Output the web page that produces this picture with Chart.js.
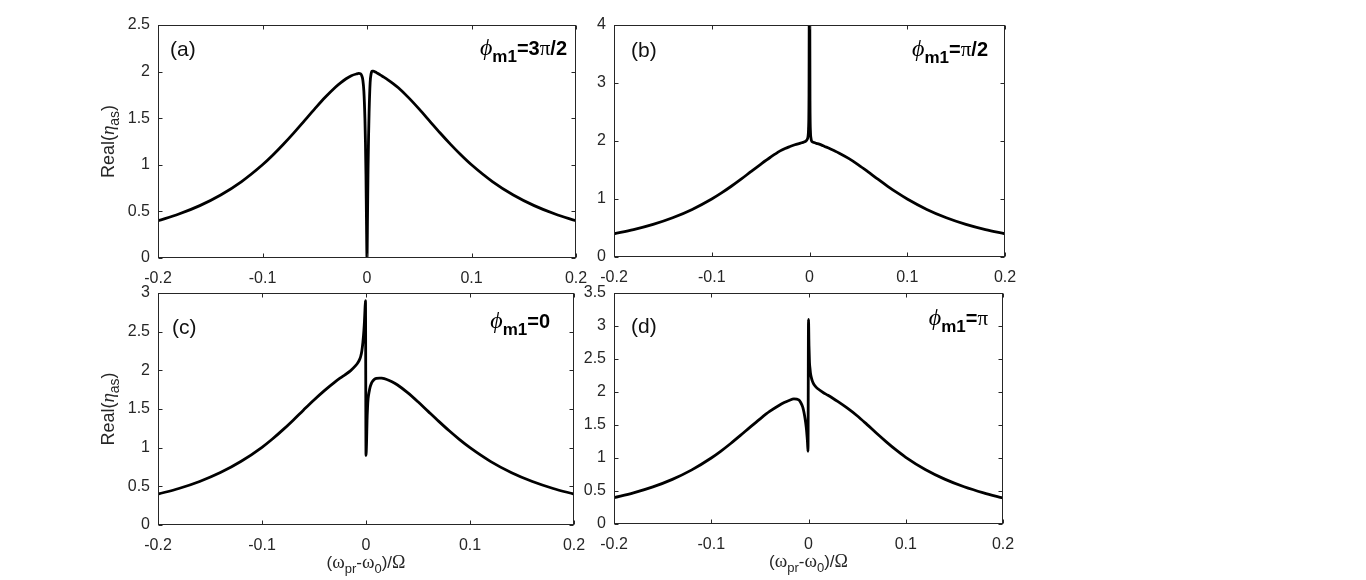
<!DOCTYPE html>
<html>
<head>
<meta charset="utf-8">
<script src="https://cdn.jsdelivr.net/npm/chart.js@4.4.1/dist/chart.umd.min.js"></script>
<style>
  html, body { margin: 0; padding: 0; background: #fff; }
  #wrap { position: relative; width: 1366px; height: 580px; overflow: hidden; background: #fff; }
  #wrap canvas { position: absolute; }
</style>
</head>
<body>
<div id="wrap">
  <canvas id="pa" width="520" height="290" style="left:90px;top:0px"></canvas>
  <canvas id="pb" width="480" height="290" style="left:560px;top:0px"></canvas>
  <canvas id="pc" width="520" height="315" style="left:90px;top:265px"></canvas>
  <canvas id="pd" width="480" height="315" style="left:560px;top:265px"></canvas>
</div>
<script>
// detuning (ω_pr-ω_0)/Ω, shared by all four panels
const detuning = [
  -0.2, -0.18, -0.16, -0.14, -0.12, -0.1, -0.09, -0.08, -0.07, -0.06, -0.05, -0.04, -0.03, -0.025,
  -0.02, -0.015, -0.01, -0.008, -0.006, -0.005, -0.004, -0.003, -0.002, -0.0015, -0.001, -0.0005,
  0,
  0.0005, 0.001, 0.0015, 0.002, 0.003, 0.004, 0.005, 0.006, 0.008, 0.01, 0.013, 0.015, 0.02, 0.025,
  0.03, 0.04, 0.05, 0.06, 0.07, 0.08, 0.09, 0.1, 0.12, 0.14, 0.16, 0.18, 0.2
];

// Real(η_as) for φ_m1 = 3π/2  (a)
const realA = [
  0.400, 0.472, 0.562, 0.676, 0.820, 1.000, 1.105, 1.220, 1.342, 1.471, 1.600, 1.724, 1.835, 1.882,
  1.923, 1.956, 1.975, 1.980, 1.975, 1.955, 1.910, 1.790, 1.500, 1.250, 0.900, 0.400,
  0.000,
  0.450, 0.950, 1.300, 1.560, 1.880, 1.980, 2.005, 2.005, 1.995, 1.982, 1.962, 1.948, 1.912, 1.872,
  1.826, 1.718, 1.597, 1.469, 1.341, 1.219, 1.105, 1.000, 0.820, 0.676, 0.562, 0.472, 0.400
];

// φ_m1 = π/2  (b) -- spike runs off the top of the axes
const realB = [
  0.400, 0.472, 0.562, 0.676, 0.820, 1.000, 1.105, 1.220, 1.342, 1.471, 1.598, 1.720, 1.830, 1.872,
  1.905, 1.935, 1.960, 1.970, 1.980, 1.987, 1.995, 2.010, 2.040, 2.080, 2.200, 2.800,
  6.000,
  2.700, 2.150, 2.050, 2.005, 1.985, 1.977, 1.972, 1.966, 1.956, 1.945, 1.925, 1.910, 1.875, 1.836,
  1.795, 1.700, 1.590, 1.468, 1.341, 1.219, 1.105, 1.000, 0.820, 0.676, 0.562, 0.472, 0.400
];

// φ_m1 = 0  (c)
const realC = [
  0.400, 0.472, 0.563, 0.678, 0.824, 1.005, 1.112, 1.230, 1.356, 1.488, 1.617, 1.738, 1.848, 1.898,
  1.945, 1.993, 2.060, 2.095, 2.145, 2.185, 2.250, 2.360, 2.520, 2.630, 2.780, 2.900,
  0.900,
  1.050, 1.350, 1.520, 1.630, 1.720, 1.785, 1.825, 1.852, 1.882, 1.895, 1.900, 1.898, 1.882, 1.853,
  1.814, 1.712, 1.593, 1.466, 1.340, 1.218, 1.104, 1.000, 0.820, 0.676, 0.562, 0.472, 0.400
];

// φ_m1 = π  (d)
const realD = [
  0.400, 0.472, 0.562, 0.676, 0.820, 1.000, 1.105, 1.220, 1.342, 1.468, 1.590, 1.705, 1.800, 1.840,
  1.872, 1.895, 1.880, 1.840, 1.775, 1.715, 1.640, 1.545, 1.420, 1.330, 1.230, 1.100,
  3.100,
  2.700, 2.450, 2.360, 2.290, 2.215, 2.165, 2.130, 2.105, 2.070, 2.045, 2.012, 1.992, 1.950, 1.905,
  1.858, 1.755, 1.640, 1.510, 1.375, 1.245, 1.122, 1.010, 0.826, 0.680, 0.564, 0.472, 0.395
];

const xTicks = [-0.2, -0.1, 0, 0.1, 0.2];

const SANS = '"Liberation Sans", Arial, sans-serif';
const SERIF = '"Liberation Serif", "DejaVu Serif", serif';
const AXIS = '#262626';

// draws a row of text pieces (each with own font / baseline shift)
function drawRich(ctx, parts, x, y, align) {
  let w = 0;
  parts.forEach(p => { ctx.font = p.f; w += ctx.measureText(p.t).width; });
  let cx = align === 'right' ? x - w : align === 'center' ? x - w / 2 : x;
  ctx.textBaseline = 'alphabetic';
  ctx.textAlign = 'left';
  parts.forEach(p => {
    ctx.font = p.f;
    ctx.fillText(p.t, cx, y + (p.dy || 0));
    cx += ctx.measureText(p.t).width;
  });
}

const xLabelParts = [
  { t: '(', f: `17px ${SANS}` },
  { t: 'ω', f: `19px ${SERIF}` },
  { t: 'pr', f: `13px ${SANS}`, dy: 5 },
  { t: '-', f: `17px ${SANS}` },
  { t: 'ω', f: `19px ${SERIF}` },
  { t: '0', f: `13px ${SANS}`, dy: 5 },
  { t: ')/', f: `17px ${SANS}` },
  { t: 'Ω', f: `18px ${SERIF}` }
];
const yLabelParts = [
  { t: 'Real(', f: `18px ${SANS}` },
  { t: 'η', f: `italic 19px ${SERIF}` },
  { t: 'as', f: `14px ${SANS}`, dy: 5 },
  { t: ')', f: `18px ${SANS}` }
];
function phaseParts(rest) {
  const parts = [
    { t: 'ϕ', f: `italic 24px ${SERIF}` },
    { t: 'm1', f: `bold 17px ${SANS}`, dy: 7 }
  ];
  rest.forEach(r => parts.push(r === 'π' ? { t: 'π', f: `21px ${SERIF}` } : { t: r, f: `bold 20px ${SANS}` }));
  return parts;
}

// box, inward ticks on all four sides, panel tag and phase label
const decor = {
  id: 'decor',
  afterDraw(chart, args, o) {
    const { ctx, chartArea: a, scales } = chart;
    const L = Math.round(a.left) + 0.5, R = Math.round(a.right) - 0.5;
    const T = Math.round(a.top) + 0.5, B = Math.round(a.bottom) - 0.5;
    ctx.save();
    ctx.strokeStyle = AXIS;
    ctx.lineWidth = 1;
    ctx.beginPath();
    scales.x.ticks.forEach(t => {
      const px = Math.round(scales.x.getPixelForValue(t.value)) + 0.5;
      ctx.moveTo(px, B); ctx.lineTo(px, B - 4);
      ctx.moveTo(px, T); ctx.lineTo(px, T + 4);
    });
    scales.y.ticks.forEach(t => {
      const py = Math.round(scales.y.getPixelForValue(t.value)) + 0.5;
      ctx.moveTo(L, py); ctx.lineTo(L + 4, py);
      ctx.moveTo(R, py); ctx.lineTo(R - 4, py);
    });
    ctx.stroke();
    ctx.strokeRect(L, T, R - L, B - T);

    ctx.fillStyle = '#111';
    ctx.font = `21px ${SANS}`;
    ctx.textAlign = 'left';
    ctx.textBaseline = 'alphabetic';
    ctx.fillText(o.tag, a.left + o.tagAt[0], a.top + o.tagAt[1]);
    ctx.fillStyle = '#000';
    drawRich(ctx, phaseParts(o.phase), a.right - o.phaseAt[0], a.top + o.phaseAt[1], 'right');

    ctx.fillStyle = AXIS;
    if (o.xLabel) drawRich(ctx, xLabelParts, (a.left + a.right) / 2, a.bottom + 43, 'center');
    if (o.yLabel) {
      ctx.translate(a.left - 44, (a.top + a.bottom) / 2);
      ctx.rotate(-Math.PI / 2);
      drawRich(ctx, yLabelParts, 0, 0, 'center');
    }
    ctx.restore();
  }
};

function makePanel(id, ys, p) {
  return new Chart(document.getElementById(id), {
    type: 'line',
    data: {
      datasets: [{
        data: detuning.map((x, i) => ({ x: x, y: ys[i] })),
        borderColor: '#000',
        borderWidth: 2.8,
        pointRadius: 0,
        cubicInterpolationMode: 'monotone',
        fill: false
      }]
    },
    options: {
      responsive: false,
      animation: false,
      events: [],
      layout: { padding: { left: 0, top: p.padTop, right: p.padRight, bottom: 0 } },
      plugins: {
        legend: { display: false },
        tooltip: { enabled: false },
        decor: p.decor
      },
      scales: {
        x: {
          type: 'linear',
          min: -0.2, max: 0.2,
          grid: { display: false, drawTicks: false },
          border: { display: false },
          afterBuildTicks: s => { s.ticks = xTicks.map(v => ({ value: v })); },
          afterFit: s => { s.height = p.xH; },
          ticks: {
            autoSkip: false, maxRotation: 0, padding: 11, color: AXIS,
            font: { family: SANS, size: 16 },
            callback: v => String(+v.toFixed(2))
          }
        },
        y: {
          min: 0, max: p.yMax,
          grid: { display: false, drawTicks: false },
          border: { display: false },
          afterFit: s => { s.width = p.yW; },
          ticks: {
            stepSize: p.yStep, autoSkip: false, padding: 8, color: AXIS,
            font: { family: SANS, size: 16 },
            callback: v => String(+v.toFixed(2))
          }
        }
      }
    },
    plugins: [decor]
  });
}

makePanel('pa', realA, {
  padTop: 25, padRight: 34, xH: 32, yW: 68, yMax: 2.5, yStep: 0.5,
  decor: { tag: '(a)', tagAt: [12, 31], phase: ['=3', 'π', '/2'], phaseAt: [9, 30], yLabel: true }
});
makePanel('pb', realB, {
  padTop: 25, padRight: 35, xH: 33, yW: 54, yMax: 4, yStep: 1,
  decor: { tag: '(b)', tagAt: [17, 32], phase: ['=', 'π', '/2'], phaseAt: [17, 31] }
});
makePanel('pc', realC, {
  padTop: 28, padRight: 36, xH: 55, yW: 68, yMax: 3, yStep: 0.5,
  decor: { tag: '(c)', tagAt: [14, 41], phase: ['=0'], phaseAt: [24, 35], yLabel: true, xLabel: true }
});
makePanel('pd', realD, {
  padTop: 28, padRight: 37, xH: 56, yW: 54, yMax: 3.5, yStep: 0.5,
  decor: { tag: '(d)', tagAt: [17, 40], phase: ['=', 'π'], phaseAt: [15, 32], xLabel: true }
});
</script>
</body>
</html>
